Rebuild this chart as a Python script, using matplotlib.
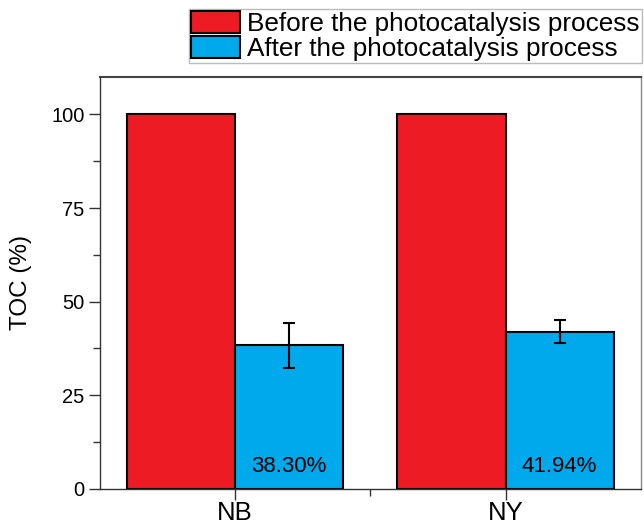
import numpy as np
import matplotlib.pyplot as plt
from matplotlib.ticker import MultipleLocator, FixedLocator

plt.rcParams['font.family'] = ['Liberation Sans', 'DejaVu Sans']

# datos
muestras = ['NB', 'NY']
antes = [100, 100]
despues = [38.30, 41.94]
err_despues = [6.1, 3.1]
etiquetas = ['38.30%', '41.94%']

rojo = '#ED1C24'
azul = '#00A8EC'

fig = plt.figure(figsize=(6.44, 5.24), dpi=100)
ax = fig.add_axes([0.155, 0.067, 0.840, 0.786])

x = np.arange(len(muestras))
ancho = 0.4

b1 = ax.bar(x - ancho / 2, antes, ancho, color=rojo, edgecolor='black', linewidth=1.5,
            label='Before the photocatalysis process')
b2 = ax.bar(x + ancho / 2, despues, ancho, color=azul, edgecolor='black', linewidth=1.5,
            label='After the photocatalysis process')
ax.errorbar(x + ancho / 2, despues, yerr=err_despues, fmt='none', ecolor='black',
            elinewidth=1.5, capsize=4, capthick=1.5)

# porcentajes dentro de las barras azules
for xi, txt in zip(x + ancho / 2, etiquetas):
    ax.text(xi, 6, txt, ha='center', va='center', fontsize=16)

ax.set_xlim(-0.5, 1.5)
ax.set_ylim(0, 110)
ax.set_xticks(x)
ax.set_xticklabels(muestras, fontsize=18.5)
ax.xaxis.set_minor_locator(FixedLocator([0.5]))
ax.set_yticks([0, 25, 50, 75, 100])
ax.yaxis.set_minor_locator(MultipleLocator(12.5))
ax.tick_params(axis='y', labelsize=14.5, length=8, width=1, direction='out', colors='#333333',
               labelcolor='black', pad=3)
ax.tick_params(axis='y', which='minor', length=5, width=1, colors='#333333')
ax.tick_params(axis='x', length=8, width=1, colors='#333333', labelcolor='black', pad=0.5)
ax.tick_params(axis='x', which='minor', length=5, width=1, colors='#333333')
ax.set_ylabel('TOC (%)', fontsize=17.5, labelpad=14)

for lado in ['left', 'bottom']:
    ax.spines[lado].set_color('#333333')
    ax.spines[lado].set_linewidth(1)
ax.spines['top'].set_color('#444444')
ax.spines['top'].set_linewidth(1.5)
ax.spines['right'].set_color('#888888')
ax.spines['right'].set_linewidth(1)

leg = fig.legend(handles=[b1, b2], loc='upper right', bbox_to_anchor=(0.997, 0.983),
                 fontsize=18.8, frameon=True, fancybox=False, edgecolor='#aaaaaa',
                 handlelength=1.85, handleheight=0.9, handletextpad=0.3,
                 labelspacing=0.0, borderpad=0.08, borderaxespad=0)
leg.get_frame().set_linewidth(1)

fig.savefig('out.png', dpi=100)
